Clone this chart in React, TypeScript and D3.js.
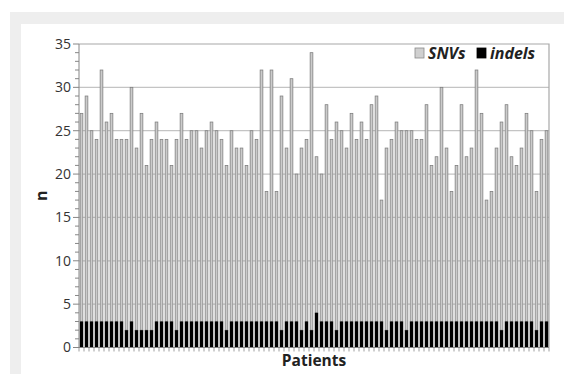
import React, { useEffect, useRef } from "react";
import * as d3 from "d3";

// total bar height per patient (SNVs + indels), read left to right
const totals = [
	27, 29, 25, 24, 32, 26, 27, 24, 24, 24, 30, 23, 27, 21, 24, 26, 24, 24, 21, 24,
	27, 24, 25, 25, 23, 25, 26, 25, 24, 21, 25, 23, 23, 21, 25, 24, 32, 18, 32, 18,
	29, 23, 31, 20, 23, 24, 34, 22, 20, 28, 24, 26, 25, 23, 27, 24, 26, 24, 28, 29,
	17, 23, 24, 26, 25, 25, 25, 24, 24, 28, 21, 22, 30, 23, 18, 21, 28, 22, 23, 32,
	27, 17, 18, 23, 26, 28, 22, 21, 23, 27, 25, 18, 24, 25,
];
const indels = [
	3, 3, 3, 3, 3, 3, 3, 3, 3, 2, 3, 2, 2, 2, 2, 3, 3, 3, 3, 2,
	3, 3, 3, 3, 3, 3, 3, 3, 3, 2, 3, 3, 3, 3, 3, 3, 3, 3, 3, 3,
	2, 3, 3, 3, 2, 3, 2, 4, 3, 3, 3, 2, 3, 3, 3, 3, 3, 3, 3, 3,
	3, 2, 3, 3, 3, 2, 3, 3, 3, 3, 3, 3, 3, 3, 3, 3, 3, 3, 3, 3,
	3, 3, 3, 3, 2, 3, 3, 3, 3, 3, 3, 2, 3, 3,
];
const snvs = totals.map((t, i) => t - indels[i]);
const patients = totals.map((_, i) => `P${i + 1}`);
const yTicks = [0, 5, 10, 15, 20, 25, 30, 35];
const seriesNames = ["SNVs", "indels"];

const W = 564;
const H = 374;

export default function App() {
	const svgRef = useRef<SVGSVGElement>(null);

	useEffect(() => {
		const root = d3.select(svgRef.current);
		root.selectAll("*").remove();

		// page frame: grey band behind a white panel
		root.append("rect").attr("x", 10).attr("y", 12).attr("width", W - 10).attr("height", H - 12).attr("fill", "#eeeeee");
		root.append("rect").attr("x", 21).attr("y", 24).attr("width", W - 21).attr("height", H - 24).attr("fill", "#ffffff");

		const left = 79;
		const right = 549;
		const top = 44;
		const bottom = 347.5;

		const x = d3
			.scaleBand<string>()
			.domain(patients)
			.range([left, right])
			.paddingInner(0.3)
			.paddingOuter(0.15);

		const y = d3.scaleLinear().domain([0, 35]).range([bottom, top]);

		// gridlines
		root
			.append("g")
			.selectAll("line")
			.data(yTicks.filter((t) => t > 0 && t < 35))
			.enter()
			.append("line")
			.attr("x1", left)
			.attr("x2", right)
			.attr("y1", (d) => y(d))
			.attr("y2", (d) => y(d))
			.attr("stroke", "#c4c4c4")
			.attr("stroke-width", 1.2);

		// plot area border (top and right)
		root
			.append("path")
			.attr("d", `M${left},${y(35)}H${right}V${bottom}`)
			.attr("fill", "none")
			.attr("stroke", "#a8a8a8")
			.attr("stroke-width", 1.2);

		const stacked = d3
			.stack<number>()
			.keys(["0", "1"])
			.value((i, key) => (key === "0" ? indels[i] : snvs[i]))(d3.range(totals.length));

		// SNV bars (upper segment)
		root
			.append("g")
			.selectAll("rect")
			.data(stacked[1])
			.enter()
			.append("rect")
			.attr("x", (d) => (x(patients[d.data]) as number) + 0.4)
			.attr("y", (d) => y(d[1]))
			.attr("width", x.bandwidth() - 0.8)
			.attr("height", (d) => y(d[0]) - y(d[1]))
			.attr("fill", "#cbcbcb")
			.attr("stroke", "#808080")
			.attr("stroke-width", 0.8);

		// indel bars (lower segment)
		root
			.append("g")
			.selectAll("rect")
			.data(stacked[0])
			.enter()
			.append("rect")
			.attr("x", (d) => x(patients[d.data]) as number)
			.attr("y", (d) => y(d[1]))
			.attr("width", x.bandwidth())
			.attr("height", (d) => y(d[0]) - y(d[1]))
			.attr("fill", "#000000");

		// y axis with minor ticks
		const yAxis = root.append("g").attr("font-family", "'Open Sans', sans-serif");
		yAxis
			.append("line")
			.attr("x1", left)
			.attr("x2", left)
			.attr("y1", top)
			.attr("y2", bottom)
			.attr("stroke", "#868686")
			.attr("stroke-width", 1);
		yAxis
			.selectAll(".minor")
			.data(d3.range(0, 36))
			.enter()
			.append("line")
			.attr("x1", (d) => (d % 5 === 0 ? left - 6 : left - 4))
			.attr("x2", left)
			.attr("y1", (d) => y(d))
			.attr("y2", (d) => y(d))
			.attr("stroke", "#868686")
			.attr("stroke-width", 1);
		yAxis
			.selectAll("text")
			.data(yTicks)
			.enter()
			.append("text")
			.attr("x", left - 8)
			.attr("y", (d) => y(d))
			.attr("dy", "0.35em")
			.attr("text-anchor", "end")
			.attr("font-size", 14)
			.attr("fill", "#333333")
			.text((d) => d);

		// x axis line with category ticks
		root
			.append("line")
			.attr("x1", left)
			.attr("x2", right)
			.attr("y1", bottom)
			.attr("y2", bottom)
			.attr("stroke", "#868686")
			.attr("stroke-width", 1);
		root
			.append("g")
			.selectAll("line")
			.data(d3.range(totals.length + 1))
			.enter()
			.append("line")
			.attr("x1", (i) => left + i * x.step())
			.attr("x2", (i) => left + i * x.step())
			.attr("y1", bottom)
			.attr("y2", bottom + 4)
			.attr("stroke", "#868686")
			.attr("stroke-width", 0.8);

		// axis titles
		root
			.append("text")
			.attr("transform", `translate(41, ${(top + bottom) / 2}) rotate(-90)`)
			.attr("text-anchor", "middle")
			.attr("dy", "0.35em")
			.attr("font-family", "'Open Sans', sans-serif")
			.attr("font-weight", "bold")
			.attr("font-size", 16)
			.attr("fill", "#222222")
			.text("n");
		root
			.append("text")
			.attr("x", (left + right) / 2)
			.attr("y", 366)
			.attr("text-anchor", "middle")
			.attr("font-family", "'Open Sans', sans-serif")
			.attr("font-weight", "bold")
			.attr("font-size", 15.5)
			.attr("fill", "#222222")
			.text("Patients");

		// legend
		const legend = root.append("g").attr("font-family", "'Open Sans', sans-serif");
		const legendItems = [
			{ name: seriesNames[0], x: 415, fill: "#d0d0d0", stroke: "#8a8a8a" },
			{ name: seriesNames[1], x: 477, fill: "#000000", stroke: "#000000" },
		];
		legendItems.forEach((item) => {
			legend
				.append("rect")
				.attr("x", item.x)
				.attr("y", 48)
				.attr("width", 9)
				.attr("height", 10)
				.attr("fill", item.fill)
				.attr("stroke", item.stroke)
				.attr("stroke-width", 0.8);
			legend
				.append("text")
				.attr("x", item.x + 13)
				.attr("y", 53)
				.attr("dy", "0.35em")
				.attr("font-size", 16)
				.attr("font-weight", "bold")
				.attr("font-style", "italic")
				.attr("fill", "#222222")
				.text(item.name);
		});
	}, []);

	return (
		<svg
			ref={svgRef}
			width={W}
			height={H}
			style={{ position: "absolute", left: 0, top: 0, background: "#ffffff" }}
		/>
	);
}
